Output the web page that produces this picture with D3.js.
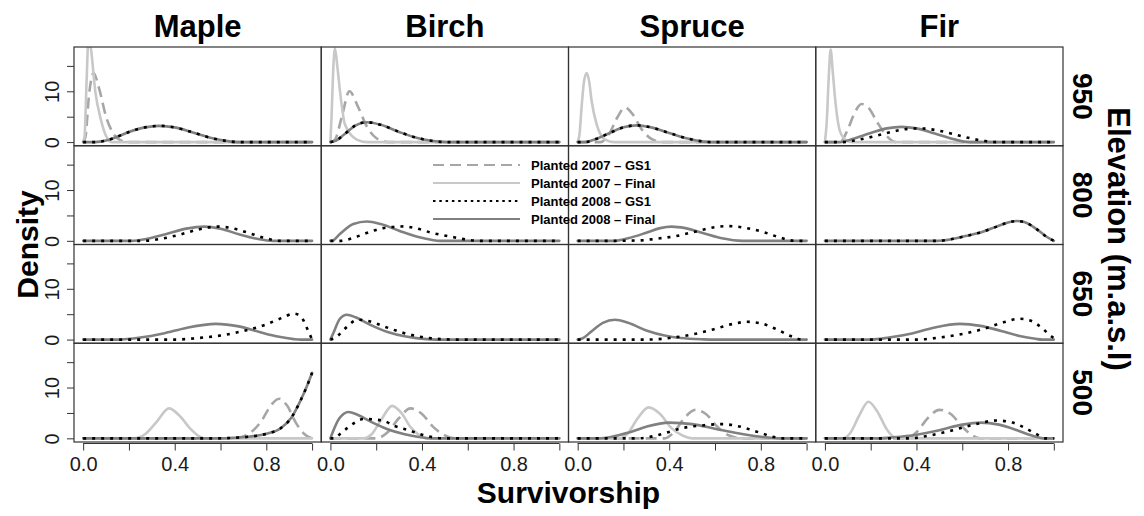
<!DOCTYPE html>
<html><head><meta charset="utf-8">
<script src="https://cdn.jsdelivr.net/npm/d3@7"></script>
<style>
body{margin:0;background:#fff;}
text{font-family:"Liberation Sans",Arial,Helvetica,sans-serif;}
</style></head>
<body><svg id="c" width="1144" height="516"></svg>
<script>
const species = ["Maple","Birch","Spruce","Fir"];
const elevations = ["950","800","650","500"];
const xTicks = [0,0.2,0.4,0.6,0.8,1.0];
const xLabels = [0,0.4,0.8];
const yTicks = [0,5,10,15];
const yLabels = [0,10];
const seriesNames = ["Planted 2007 \u2013 GS1","Planted 2007 \u2013 Final","Planted 2008 \u2013 GS1","Planted 2008 \u2013 Final"];

// knots [survivorship, density], panels row-major (950,800,650,500) x (Maple,Birch,Spruce,Fir)
const gs2007 = [
  [[0,0],[0.01,1],[0.025,9],[0.045,13.6],[0.07,10.5],[0.1,5],[0.13,1.8],[0.165,0.3],[0.2,0],[1,0]],
  [[0,0],[0.02,0.5],[0.05,5],[0.083,10],[0.12,7],[0.16,3],[0.2,0.8],[0.25,0],[1,0]],
  [[0,0],[0.1,0],[0.14,1.8],[0.175,5],[0.207,6.8],[0.24,5.5],[0.28,2.5],[0.32,0.7],[0.37,0],[1,0]],
  [[0,0],[0.066,0],[0.1,2.5],[0.13,5.8],[0.16,7.5],[0.19,6.8],[0.23,3.8],[0.27,1.2],[0.31,0],[1,0]],
  null,null,null,null,
  null,null,null,null,
  [[0,0],[0.66,0],[0.72,0.8],[0.78,3.5],[0.82,6.5],[0.856,7.8],[0.89,6.5],[0.93,3],[0.97,0.7],[1,0]],
  [[0,0],[0.2,0],[0.25,1.2],[0.3,4],[0.35,5.9],[0.4,4.8],[0.45,2.2],[0.5,0.6],[0.55,0],[1,0]],
  [[0,0],[0.38,0],[0.42,1.2],[0.47,4.2],[0.514,5.6],[0.56,4.8],[0.61,2.3],[0.66,0.6],[0.72,0],[1,0]],
  [[0,0],[0.36,0],[0.4,1.2],[0.45,4],[0.5,5.6],[0.55,4.8],[0.6,2.3],[0.64,0.7],[0.68,0],[1,0]]
];
const final2007 = [
  [[0,0],[0.006,1],[0.015,12],[0.024,21],[0.035,18],[0.053,10],[0.077,4.5],[0.1,1.2],[0.125,0],[1,0]],
  [[0,0],[0.005,5],[0.012,14],[0.02,18.4],[0.03,15],[0.042,10],[0.064,3.4],[0.115,0.5],[0.16,0],[1,0]],
  [[0,0],[0.008,1.5],[0.017,6.8],[0.028,12],[0.04,13.6],[0.05,12],[0.061,8.1],[0.083,3.5],[0.12,0.5],[0.16,0],[1,0]],
  [[0,0],[0.008,4],[0.017,13],[0.025,18.2],[0.034,14],[0.044,8.8],[0.066,2.1],[0.095,0.3],[0.12,0],[1,0]],
  null,null,null,null,
  null,null,null,null,
  [[0,0],[0.22,0],[0.27,0.8],[0.32,3.2],[0.375,5.9],[0.42,4.5],[0.47,1.8],[0.5,0.6],[0.53,0],[1,0]],
  [[0,0],[0.145,0],[0.18,0.8],[0.22,3.5],[0.27,6.4],[0.31,5],[0.35,2.2],[0.39,0.6],[0.42,0],[1,0]],
  [[0,0],[0.18,0],[0.22,1],[0.26,3.8],[0.31,6.1],[0.36,4.8],[0.41,2],[0.46,0.5],[0.5,0],[1,0]],
  [[0,0],[0.08,0],[0.11,1],[0.15,4.5],[0.19,7.2],[0.23,5.2],[0.27,1.8],[0.3,0.3],[0.32,0],[1,0]]
];
const final2008 = [
  [[0,0],[0.05,0],[0.1,0.3],[0.135,0.8],[0.2,2.0],[0.27,2.9],[0.33,3.2],[0.4,2.9],[0.48,1.9],[0.56,0.8],[0.63,0.2],[0.68,0],[1,0]],
  [[0,0],[0.02,0.2],[0.06,1.5],[0.11,3.3],[0.16,3.9],[0.22,3.4],[0.3,2],[0.38,0.8],[0.45,0.2],[0.51,0],[1,0]],
  [[0,0],[0.03,0],[0.08,0.6],[0.14,1.8],[0.2,2.9],[0.258,3.3],[0.32,2.9],[0.4,1.8],[0.48,0.7],[0.55,0.1],[0.58,0],[1,0]],
  [[0,0],[0.066,0],[0.12,0.6],[0.2,1.8],[0.27,2.7],[0.335,3.0],[0.4,2.7],[0.48,1.7],[0.56,0.6],[0.63,0],[1,0]],
  [[0,0],[0.21,0],[0.28,0.4],[0.36,1.3],[0.45,2.4],[0.528,2.8],[0.6,2.4],[0.68,1.3],[0.76,0.4],[0.83,0],[1,0]],
  [[0,0],[0.006,0],[0.04,1.3],[0.1,3.3],[0.16,3.8],[0.22,3.3],[0.3,2],[0.38,0.8],[0.44,0.2],[0.48,0],[1,0]],
  [[0,0],[0.16,0],[0.22,0.5],[0.3,1.6],[0.36,2.5],[0.41,2.8],[0.47,2.5],[0.55,1.5],[0.63,0.5],[0.72,0],[1,0]],
  [[0,0],[0.49,0],[0.55,0.3],[0.62,1.0],[0.69,1.8],[0.75,2.8],[0.8,3.6],[0.837,3.9],[0.87,3.7],[0.925,2.3],[0.965,0.9],[1,0]],
  [[0,0],[0.15,0],[0.25,0.4],[0.35,1.2],[0.45,2.3],[0.58,3.1],[0.68,2.6],[0.77,1.5],[0.85,0.6],[0.92,0.1],[0.95,0],[1,0]],
  [[0,0],[0.015,1.5],[0.04,4],[0.072,4.9],[0.11,4.4],[0.17,3],[0.25,1.5],[0.33,0.6],[0.42,0.1],[0.5,0],[1,0]],
  [[0,0],[0.02,0.2],[0.06,1.6],[0.11,3.3],[0.163,3.9],[0.22,3.3],[0.3,1.8],[0.38,0.8],[0.45,0.3],[0.55,0.05],[0.6,0],[1,0]],
  [[0,0],[0.2,0],[0.28,0.4],[0.38,1.2],[0.48,2.4],[0.59,3.1],[0.68,2.7],[0.77,1.7],[0.85,0.7],[0.92,0.15],[0.95,0],[1,0]],
  [[0,0],[0.59,0],[0.65,0.1],[0.73,0.35],[0.8,0.9],[0.863,2.0],[0.91,4.1],[0.95,7.5],[0.975,10],[1,12.9]],
  [[0,0],[0.01,1.2],[0.04,4],[0.079,5.2],[0.12,4.6],[0.18,3.2],[0.25,1.8],[0.32,0.85],[0.38,0.3],[0.44,0],[1,0]],
  [[0,0],[0.09,0],[0.15,0.3],[0.22,1.1],[0.3,2.3],[0.4,3.1],[0.5,2.8],[0.6,1.9],[0.7,1.0],[0.8,0.3],[0.89,0],[1,0]],
  [[0,0],[0.23,0],[0.3,0.2],[0.4,0.7],[0.5,1.6],[0.6,2.7],[0.68,3.1],[0.76,2.7],[0.84,1.6],[0.9,0.6],[0.96,0],[1,0]]
];
const gs2008 = [
  [[0,0],[0.05,0],[0.1,0.3],[0.135,0.8],[0.2,2.0],[0.27,2.9],[0.33,3.2],[0.4,2.9],[0.48,1.9],[0.56,0.8],[0.63,0.2],[0.68,0],[1,0]],
  [[0,0],[0.02,0.2],[0.06,1.5],[0.11,3.3],[0.16,3.9],[0.22,3.4],[0.3,2],[0.38,0.8],[0.45,0.2],[0.51,0],[1,0]],
  [[0,0],[0.03,0],[0.08,0.6],[0.14,1.8],[0.2,2.9],[0.258,3.3],[0.32,2.9],[0.4,1.8],[0.48,0.7],[0.55,0.1],[0.58,0],[1,0]],
  [[0,0],[0.08,0],[0.14,0.4],[0.22,1.2],[0.3,2.1],[0.36,2.6],[0.415,2.7],[0.48,2.4],[0.56,1.6],[0.64,0.7],[0.7,0.2],[0.75,0],[1,0]],
  [[0,0],[0.27,0],[0.34,0.4],[0.42,1.2],[0.5,2.2],[0.587,2.8],[0.65,2.5],[0.72,1.6],[0.79,0.6],[0.86,0],[1,0]],
  [[0,0],[0.04,0],[0.108,0.7],[0.144,1.3],[0.188,2.0],[0.23,2.5],[0.28,2.75],[0.32,2.85],[0.37,2.5],[0.45,1.5],[0.54,0.7],[0.6,0.2],[0.65,0],[1,0]],
  [[0,0],[0.163,0],[0.28,0.1],[0.34,0.4],[0.425,0.9],[0.53,2.0],[0.6,2.7],[0.66,2.9],[0.74,2.5],[0.82,1.6],[0.88,0.7],[0.95,0],[1,0]],
  [[0,0],[0.49,0],[0.55,0.3],[0.62,1.0],[0.69,1.8],[0.75,2.8],[0.8,3.6],[0.837,3.9],[0.87,3.7],[0.925,2.3],[0.965,0.9],[1,0]],
  [[0,0],[0.4,0],[0.5,0.3],[0.6,0.8],[0.7,1.7],[0.8,3],[0.87,4.3],[0.92,5.1],[0.95,4.6],[0.98,2],[1,0]],
  [[0,0],[0.02,0.3],[0.06,2],[0.12,3.9],[0.17,3.6],[0.24,2.5],[0.32,1.3],[0.4,0.5],[0.48,0.1],[0.55,0],[1,0]],
  [[0,0],[0.3,0],[0.4,0.3],[0.5,1.0],[0.6,2.1],[0.68,3.1],[0.74,3.5],[0.8,3.2],[0.87,2],[0.93,0.7],[0.98,0],[1,0]],
  [[0,0],[0.4,0],[0.5,0.4],[0.6,1.1],[0.7,2.2],[0.78,3.4],[0.85,4.1],[0.9,3.7],[0.95,2.2],[0.99,0.6],[1,0.3]],
  [[0,0],[0.59,0],[0.65,0.1],[0.73,0.35],[0.8,0.9],[0.863,2.0],[0.91,4.1],[0.95,7.5],[0.975,10],[1,12.9]],
  [[0,0],[0.02,0],[0.042,0.85],[0.079,2.2],[0.145,3.8],[0.23,3.5],[0.276,2.5],[0.35,1.5],[0.39,0.85],[0.45,0.2],[0.5,0],[1,0]],
  [[0,0],[0.266,0],[0.368,0.85],[0.455,2.0],[0.558,2.6],[0.63,2.8],[0.7,2.4],[0.79,1.2],[0.864,0.2],[0.9,0],[1,0]],
  [[0,0],[0.37,0],[0.45,0.5],[0.55,1.5],[0.65,2.7],[0.75,3.5],[0.82,3.1],[0.88,1.9],[0.93,0.7],[0.96,0],[1,0]]
];

// drawing order: 2007 GS1, 2007 Final, 2008 Final, 2008 GS1 (name = index into seriesNames)
const styles = [
  {data: gs2007,   name:0, color:"#a6a6a6", dash:"11,6", ldash:"11,6", w:2.6, cap:"butt"},
  {data: final2007,name:1, color:"#c8c8c8", dash:null,   ldash:null,   w:2.6, cap:"round"},
  {data: final2008,name:3, color:"#808080", dash:null,   ldash:null,   w:2.6, cap:"round"},
  {data: gs2008,   name:2, color:"#000000", dash:"3,6",  ldash:"2.5,3.8", w:2.6, cap:"butt"}
];

const svg = d3.select("#c");
const L = 74, T = 47, PW = 247.25, PH = 98.75;
const FF = '"Liberation Sans",Arial,Helvetica,sans-serif';

const defs = svg.append("defs");
const line = d3.line().curve(d3.curveMonotoneX);

for (let r = 0; r < 4; r++) {
  for (let c = 0; c < 4; c++) {
    const x0 = L + c*PW, y0 = T + r*PH;
    const x = d3.scaleLinear().domain([-0.04,1.04]).range([x0, x0+PW]);
    const y = d3.scaleLinear().domain([-0.72,18.72]).range([y0+PH, y0]);
    const id = "clip"+r+"_"+c;
    defs.append("clipPath").attr("id", id).append("rect")
      .attr("x", x0).attr("y", y0).attr("width", PW).attr("height", PH);
    const g = svg.append("g").attr("clip-path", "url(#"+id+")");
    const idx = r*4 + c;
    styles.forEach(s => {
      const pts = s.data[idx];
      if (!pts) return;
      line.x(d => x(d[0])).y(d => y(d[1]));
      g.append("path").attr("d", line(pts)).attr("fill","none")
        .attr("stroke", s.color).attr("stroke-width", s.w)
        .attr("stroke-dasharray", s.dash).attr("stroke-linecap", s.cap)
        .attr("stroke-linejoin","round");
    });
    svg.append("rect").attr("x", x0).attr("y", y0).attr("width", PW).attr("height", PH)
      .attr("fill","none").attr("stroke","#333").attr("stroke-width",1.2);

    if (c === 0) {
      const ax = d3.axisLeft(y).tickValues(yTicks).tickSize(7).tickPadding(8)
        .tickFormat(d => yLabels.includes(d) ? d : "");
      const ag = svg.append("g").attr("transform", `translate(${x0},0)`).call(ax);
      ag.select(".domain").remove();
      ag.selectAll(".tick line").attr("stroke","#333").attr("stroke-width",1);
      ag.selectAll(".tick text").attr("font-size",20).attr("fill","#1a1a1a")
        .attr("font-family", FF)
        .attr("transform", "rotate(-90,-22,0)")
        .attr("x", -22).attr("dy","0.35em").attr("text-anchor","middle");
    }
    if (r === 3) {
      const ax = d3.axisBottom(x).tickValues(xTicks).tickSize(7).tickPadding(6)
        .tickFormat(d => xLabels.some(v => Math.abs(v-d)<1e-9) ? d3.format(".1f")(d) : "");
      const ag = svg.append("g").attr("transform", `translate(0,${y0+PH+1.5})`).call(ax);
      ag.select(".domain").remove();
      ag.append("line").attr("x1", x(0)).attr("x2", x(1)).attr("stroke","#333").attr("stroke-width",1.2);
      ag.selectAll(".tick line").attr("stroke","#333").attr("stroke-width",1);
      ag.selectAll(".tick text").attr("font-size",20).attr("fill","#1a1a1a").attr("font-family", FF);
    }
    if (r === 0) {
      svg.append("text").attr("x", x0+PW/2).attr("y", 37).attr("text-anchor","middle")
        .attr("font-size",31).attr("font-weight","bold").text(species[c]);
    }
    if (c === 3) {
      svg.append("text").attr("transform", `translate(${x0+PW+10},${y0+PH/2}) rotate(90)`)
        .attr("text-anchor","middle").attr("font-size",28).attr("font-weight","bold").text(elevations[r]);
    }
  }
}

svg.append("text").attr("x", L + 2*PW).attr("y", 503).attr("text-anchor","middle")
  .attr("font-size",30).attr("font-weight","bold").text("Survivorship");
svg.append("text").attr("transform", `translate(38,${T+2*PH}) rotate(-90)`)
  .attr("text-anchor","middle").attr("font-size",30).attr("font-weight","bold").text("Density");
svg.append("text").attr("transform", `translate(1108,239) rotate(90)`)
  .attr("text-anchor","middle").attr("font-size",31).attr("font-weight","bold").text("Elevation (m.a.s.l)");

// legend
const legendStyles = [0,1,3,2].map(i => styles[i]);
const lg = svg.append("g");
legendStyles.forEach((s, i) => {
  const ly = 165 + i*18;
  lg.append("line").attr("x1",433).attr("x2",520).attr("y1",ly).attr("y2",ly)
    .attr("stroke", s.color).attr("stroke-width", 2.2).attr("stroke-dasharray", s.ldash);
  lg.append("text").attr("x",531).attr("y",ly).attr("dy","0.35em")
    .attr("font-size",13).attr("font-weight","bold").text(seriesNames[s.name]);
});
</script></body></html>
